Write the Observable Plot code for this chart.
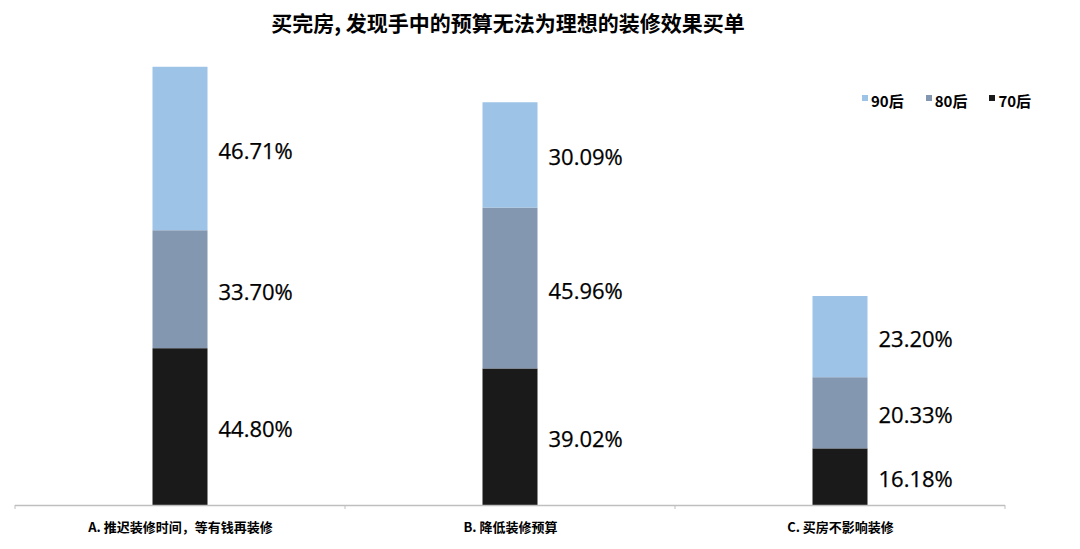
<!DOCTYPE html>
<html>
<head>
<meta charset="utf-8">
<script src="https://cdn.jsdelivr.net/npm/d3@7"></script>
<script src="https://cdn.jsdelivr.net/npm/@observablehq/plot@0.6"></script>
<style>
  html, body { margin: 0; padding: 0; background: #fff; }
  #wrap { position: relative; width: 1080px; height: 549px; overflow: hidden; }
  #title { width: 1016px; height: 45px; line-height: 44px; text-align: center;
    font-family: "Noto Sans CJK SC", sans-serif; font-weight: bold; font-size: 21px; color: #000; }
  #legend { position: absolute; left: 862px; top: 90px; display: flex; gap: 22px;
    font-family: "Noto Sans CJK SC", sans-serif; font-weight: bold; font-size: 15px; color: #000; }
  #legend .item { display: flex; align-items: center; }
  #legend .sw { width: 6px; height: 6px; margin-right: 3px; margin-top: -5px; }
</style>
</head>
<body>
<div id="wrap">
  <div id="title">买完房, 发现手中的预算无法为理想的装修效果买单</div>
  <div id="chart"></div>
  <div id="legend"></div>
</div>
<script>
const categories = ["A. 推迟装修时间，等有钱再装修", "B. 降低装修预算", "C. 买房不影响装修"];
const series = ["70后", "80后", "90后"];
const v70 = [44.80, 39.02, 16.18];
const v80 = [33.70, 45.96, 20.33];
const v90 = [46.71, 30.09, 23.20];
const colors = ["#1a1a1a", "#8497b0", "#9dc3e6"];
const legendOrder = ["90后", "80后", "70后"];

const valuesBySeries = {"70后": v70, "80后": v80, "90后": v90};
const data = categories.flatMap((c, i) => series.map(s => ({cat: c, series: s, value: valuesBySeries[s][i]})));

const boundaryTicks = (index, scales, values, dimensions) => {
  const g = d3.create("svg:g");
  const x = scales.x;
  const bw = x.bandwidth ? x.bandwidth() : (dimensions.width - dimensions.marginLeft - dimensions.marginRight) / categories.length;
  const y0 = scales.y(0);
  const xs = categories.map(c => x(c)).concat([x(categories[categories.length - 1]) + bw]);
  for (const xx of xs) {
    g.append("line").attr("x1", xx).attr("x2", xx).attr("y1", y0).attr("y2", y0 + 4)
      .attr("stroke", "#bfbfbf").attr("stroke-width", 1);
  }
  return g.node();
};

const chart = Plot.plot({
  width: 1080,
  height: 504,
  marginTop: 5,
  marginBottom: 44,
  marginLeft: 15,
  marginRight: 75,
  style: {fontFamily: "'Open Sans', sans-serif", background: "#fff"},
  x: {domain: categories, padding: 0, label: null},
  y: {domain: [0, 130], axis: null},
  color: {domain: series, range: colors},
  marks: [
    Plot.barY(data, Plot.stackY({x: "cat", y: "value", fill: "series", order: series, insetLeft: 137.5, insetRight: 137.5})),
    Plot.text(data, Plot.stackY({x: "cat", y: "value", z: "series", order: series,
      text: d => d.value.toFixed(2) + "%", dx: 38, dy: 3, textAnchor: "start", fontSize: 22,
      fill: "#000", stroke: "#000", strokeWidth: 0.25})),
    Plot.ruleY([0], {stroke: "#bfbfbf", strokeWidth: 1.3}),
    boundaryTicks,
    Plot.axisX({tickSize: 0, tickPadding: 17, fontSize: 13, fontWeight: "bold",
      fontFamily: "'Noto Sans CJK SC', sans-serif", fill: "#000", label: null})
  ]
});
document.getElementById("chart").appendChild(chart);

const legend = document.getElementById("legend");
for (const s of legendOrder) {
  const item = document.createElement("div");
  item.className = "item";
  const sw = document.createElement("span");
  sw.className = "sw";
  sw.style.background = colors[series.indexOf(s)];
  const t = document.createElement("span");
  t.textContent = s;
  item.appendChild(sw);
  item.appendChild(t);
  legend.appendChild(item);
}
</script>
</body>
</html>
